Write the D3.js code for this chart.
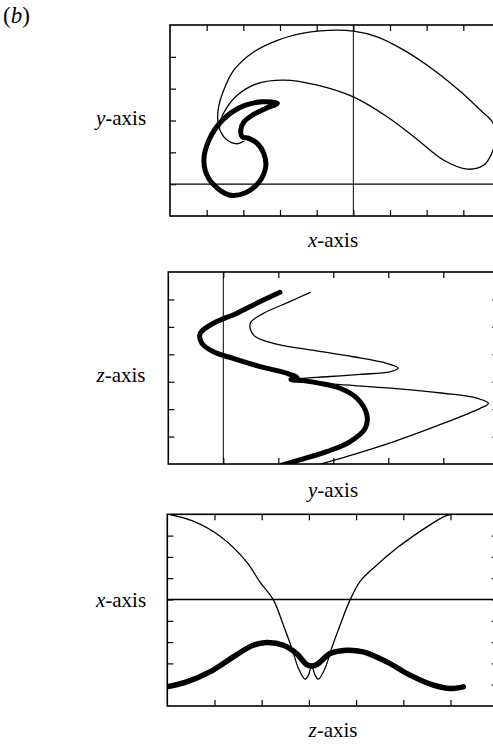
<!DOCTYPE html>
<html>
<head>
<meta charset="utf-8">
<script src="https://cdn.jsdelivr.net/npm/d3@7"></script>
<style>
  html, body { margin: 0; padding: 0; background: #fff; }
  #wrap { position: relative; width: 493px; height: 745px; overflow: hidden; }
  svg { display: block; position: absolute; left: 0; top: 0; }
  .cap { position: absolute; font-family: 'Liberation Serif', serif; font-size: 21px;
         line-height: 21px; color: #000; white-space: nowrap; text-align: center; width: 120px; }
  .cap i { font-style: italic; }
</style>
</head>
<body>
<div id="wrap"><svg id="fig" width="493" height="745"></svg></div>
<script>
// ---- Panel 1: trajectory projected on the x–y plane ----
const xyThinX = [-2.99,-3.18,-3.46,-3.65,-3.70,-3.67,-3.57,-3.26,-2.71,-2.07,-1.44,-0.98,0.00,0.65,1.38,2.20,2.93,3.47,3.79,3.88,3.79,3.56,3.11,2.47,1.65,0.93,0.00,-0.98,-1.89,-2.62,-3.16,-3.46,-3.62,-3.65];
const xyThinY = [1.35,1.27,1.40,1.73,2.07,2.45,2.85,3.58,4.16,4.52,4.73,4.81,4.81,4.63,4.21,3.58,2.90,2.32,1.96,1.54,1.01,0.60,0.47,0.75,1.49,2.11,2.74,3.11,3.27,3.16,2.80,2.39,2.01,1.76];
const xyThickX = [-2.07,-2.48,-2.94,-3.30,-3.57,-3.76,-3.94,-4.07,-4.03,-3.80,-3.39,-2.94,-2.57,-2.39,-2.44,-2.62,-2.85,-3.03,-3.07,-2.98,-2.75,-2.39];
const xyThickY = [2.54,2.59,2.48,2.27,2.01,1.75,1.38,0.86,0.39,-0.03,-0.34,-0.27,0.07,0.54,0.96,1.28,1.44,1.49,1.70,1.96,2.17,2.38];

// ---- Panel 2: projection on the y–z plane ----
const yzThinY = [1.58,1.21,0.73,0.49,0.55,0.91,1.58,2.36,2.97,3.18,3.03,2.49,1.94,1.39,1.23,1.39,2.00,3.09,4.00,4.61,4.82,4.67,4.00,3.09,2.24,1.70];
const yzThinZ = [6.26,5.92,5.49,5.13,4.70,4.40,4.16,3.91,3.67,3.49,3.36,3.27,3.19,3.12,3.08,3.01,2.91,2.76,2.58,2.40,2.21,2.03,1.48,0.81,0.27,-0.04];
const yzThickY = [1.03,0.67,0.24,-0.18,-0.42,-0.39,-0.18,0.18,0.67,1.15,1.34,1.23,1.45,1.76,2.12,2.43,2.61,2.58,2.30,1.88,1.39,1.06];
const yzThickZ = [6.26,5.92,5.49,5.13,4.76,4.40,4.09,3.85,3.55,3.31,3.15,3.08,3.04,2.94,2.76,2.40,1.79,1.30,0.81,0.45,0.15,-0.04];

// ---- Panel 3: projection on the z–x plane ----
const zxThinZ = [0.06,0.55,1.12,1.68,1.96,2.25,2.46,2.64,2.78,2.92,2.99,3.06,3.13,3.20,3.34,3.48,3.66,3.87,4.09,4.40,4.89,5.50,5.85,5.99];
const zxThinX = [3.99,3.68,2.97,1.77,0.83,-0.03,-1.21,-2.30,-3.24,-3.74,-3.55,-3.11,-3.55,-3.74,-3.24,-2.30,-1.21,-0.03,0.86,1.54,2.46,3.41,3.88,3.99];
const zxThickZ = [-0.01,0.41,0.90,1.40,1.82,2.11,2.46,2.74,2.95,3.06,3.17,3.45,3.80,4.15,4.65,5.14,5.64,5.99,6.27];
const zxThickX = [-4.10,-3.87,-3.40,-2.69,-2.15,-2.02,-2.15,-2.54,-3.05,-3.12,-3.05,-2.54,-2.38,-2.46,-2.93,-3.55,-4.02,-4.18,-4.10];

// Tick positions of each frame
const p1TicksX = [-4,-3,-2,-1,0,1,2,3];
const p1TicksY = [0,1,2,3,4];
const p2TicksX = [0,1,2,3,4];
const p2TicksY = [1,2,3,4,5,6];
const p3TicksX = [1,2,3,4,5,6];
const p3TicksY = [-4,-3,-2,-1,0,1,2,3];

const rowLabels = ["y", "z", "x"];
const colLabels = ["x", "y", "z"];

const zip = (a, b) => a.map((v, i) => [v, b[i]]);

const svg = d3.select("#fig");
const wrap = d3.select("#wrap");

// caption placed by its baseline (Liberation Serif ascent ≈ 0.891em)
function caption(cx, baseline, letter, size) {
  const fs = size || 21;
  const top = baseline - (0.891 * fs + (fs - 1.107 * fs) / 2);
  const d = wrap.append("div").attr("class", "cap")
    .style("left", (cx - 60) + "px").style("top", top + "px")
    .style("font-size", fs + "px").style("line-height", fs + "px");
  d.append("i").text(letter);
  d.append("span").text("-axis");
}

const tag = wrap.append("div").attr("class", "cap")
  .style("left", "3px").style("top", "4px").style("width", "auto")
  .style("text-align", "left")
  .style("font-size", "23px").style("line-height", "23px");
tag.append("span").text("(");
tag.append("i").text("b");
tag.append("span").text(")");

const panels = [
  { left: 170, right: 500, top: 25, bottom: 216, dx: [-5, 4], dy: [-1, 5],
    tx: p1TicksX, ty: p1TicksY, vline: 0, hline: 0,
    series: [
      { pts: zip(xyThinX, xyThinY), w: 1.3, closed: false },
      { pts: zip(xyThickX, xyThickY), w: 5, closed: true }
    ],
    rowY: 126, colY: 248 },
  { left: 168.3, right: 498.3, top: 272, bottom: 464, dx: [-1, 5], dy: [0, 7],
    tx: p2TicksX, ty: p2TicksY, vline: 0, hline: null,
    series: [
      { pts: zip(yzThinY, yzThinZ), w: 1.3, closed: false },
      { pts: zip(yzThickY, yzThickZ), w: 5, closed: false }
    ],
    rowY: 383, colY: 498 },
  { left: 167.3, right: 497.7, top: 514.3, bottom: 706, dx: [0, 7], dy: [-5, 4],
    tx: p3TicksX, ty: p3TicksY, vline: null, hline: 0,
    series: [
      { pts: zip(zxThinZ, zxThinX), w: 1.3, closed: false },
      { pts: zip(zxThickZ, zxThickX), w: 5.5, closed: false }
    ],
    rowY: 608, colY: 738 }
];

panels.forEach((p, i) => {
  const x = d3.scaleLinear().domain(p.dx).range([p.left, p.right]);
  const y = d3.scaleLinear().domain(p.dy).range([p.bottom, p.top]);
  const g = svg.append("g");

  const clipId = "clip" + i;
  svg.append("clipPath").attr("id", clipId)
    .append("rect")
    .attr("x", p.left).attr("y", p.top)
    .attr("width", p.right - p.left).attr("height", p.bottom - p.top);

  // inward ticks on all four sides
  const tick = 6;
  const axes = [
    { ax: d3.axisBottom(x).tickValues(p.tx), t: `translate(0,${p.top})` },
    { ax: d3.axisTop(x).tickValues(p.tx), t: `translate(0,${p.bottom})` },
    { ax: d3.axisRight(y).tickValues(p.ty), t: `translate(${p.left},0)` },
    { ax: d3.axisLeft(y).tickValues(p.ty), t: `translate(${p.right},0)` }
  ];
  axes.forEach(a => {
    const ag = g.append("g").attr("transform", a.t)
      .call(a.ax.tickSizeInner(tick).tickSizeOuter(0).tickFormat(""));
    ag.select(".domain").remove();
    ag.selectAll("text").remove();
    ag.selectAll("line").attr("stroke", "#000").attr("stroke-width", 1.2);
  });

  // reference lines through the origin
  if (p.vline !== null) {
    g.append("line")
      .attr("x1", x(p.vline)).attr("x2", x(p.vline))
      .attr("y1", p.top).attr("y2", p.bottom)
      .attr("stroke", "#000").attr("stroke-width", 1);
  }
  if (p.hline !== null) {
    g.append("line")
      .attr("x1", p.left).attr("x2", p.right)
      .attr("y1", y(p.hline)).attr("y2", y(p.hline))
      .attr("stroke", "#000").attr("stroke-width", 1.3);
  }

  // frame
  g.append("rect")
    .attr("x", p.left).attr("y", p.top)
    .attr("width", p.right - p.left).attr("height", p.bottom - p.top)
    .attr("fill", "none").attr("stroke", "#000").attr("stroke-width", 1.6);

  // trajectories
  const cg = g.append("g").attr("clip-path", `url(#${clipId})`);
  p.series.forEach(s => {
    const line = d3.line()
      .x(d => x(d[0])).y(d => y(d[1]))
      .curve(s.closed ? d3.curveCatmullRomClosed.alpha(0.5) : d3.curveCatmullRom.alpha(0.5));
    cg.append("path")
      .attr("d", line(s.pts))
      .attr("fill", "none")
      .attr("stroke", "#000")
      .attr("stroke-width", s.w)
      .attr("stroke-linejoin", "round")
      .attr("stroke-linecap", "round");
  });

  caption(121, p.rowY, rowLabels[i]);
  caption(333, p.colY, colLabels[i]);
});
</script>
</body>
</html>
